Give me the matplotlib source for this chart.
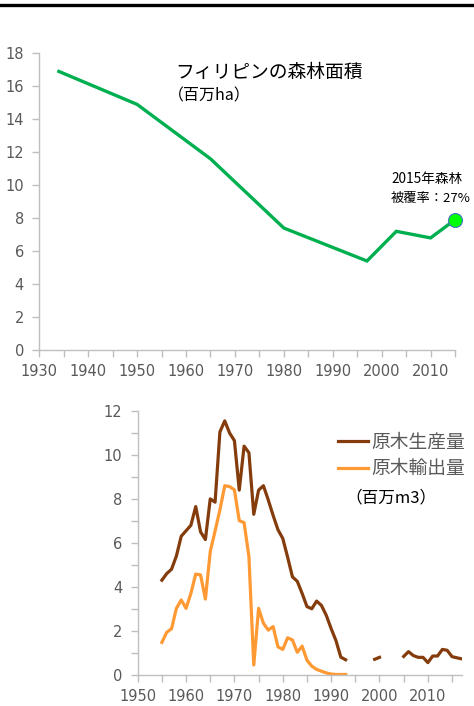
import numpy as np
import matplotlib
matplotlib.use("Agg")
import matplotlib.pyplot as plt
from matplotlib.lines import Line2D
from matplotlib.ticker import MultipleLocator

plt.rcParams['font.family'] = ['Noto Sans CJK JP', 'DejaVu Sans']

# forest area (million ha)
forest_years = [1934, 1950, 1965, 1980, 1997, 2003, 2010, 2015]
forest_area = [16.9, 14.9, 11.6, 7.4, 5.4, 7.2, 6.8, 7.9]

# log production / export (million m3)
prod_years = list(range(1955, 2018))
nan = np.nan
log_production = [4.3, 4.6, 4.8, 5.4, 6.3, 6.55, 6.8, 7.65, 6.5, 6.15,
                  8.0, 7.85, 11.05, 11.55, 11.0, 10.65, 8.4, 10.4, 10.1, 7.3,
                  8.4, 8.6, 7.95, 7.25, 6.6, 6.2, 5.35, 4.45, 4.25, 3.7,
                  3.1, 3.0, 3.35, 3.15, 2.7, 2.1, 1.55, 0.8, 0.68, nan,
                  nan, nan, nan, nan, 0.7, 0.79, nan, nan, nan, nan,
                  0.83, 1.05, 0.87, 0.79, 0.79, 0.55, 0.85, 0.85, 1.15, 1.11,
                  0.82, 0.77, 0.72]
export_years = list(range(1955, 1994))
log_export = [1.47, 1.93, 2.09, 3.02, 3.4, 3.02, 3.7, 4.58, 4.54, 3.44,
              5.6, 6.54, 7.5, 8.6, 8.56, 8.41, 7.01, 6.92, 5.37, 0.44,
              3.02, 2.34, 2.03, 2.19, 1.27, 1.15, 1.68, 1.58, 1.02, 1.3,
              0.66, 0.39, 0.24, 0.16, 0.08, 0.03, 0.01, 0.01, 0.01]

grey = '#bfbfbf'
tick_grey = '#595959'

fig = plt.figure(figsize=(4.74, 7.06), dpi=100)

# thick black rule at the top
fig.add_artist(Line2D([0, 1], [1 - 5 / 706, 1 - 5 / 706], color='black', lw=2.4,
                      transform=fig.transFigure))


def style_axes(ax):
    for s in ['top', 'right']:
        ax.spines[s].set_visible(False)
    for s in ['left', 'bottom']:
        ax.spines[s].set_color(grey)
        ax.spines[s].set_linewidth(1)
    ax.tick_params(which='both', length=5, color=grey, labelcolor=tick_grey,
                   labelsize=10.5, width=1)
    ax.tick_params(axis='y', pad=6)
    ax.tick_params(axis='x', pad=5)
    for lab in ax.get_xticklabels() + ax.get_yticklabels():
        lab.set_family('DejaVu Sans')


# top chart: forest area
ax1 = fig.add_axes([39.3 / 474, 1 - 350 / 706, (455 - 39.3) / 474, (350 - 53.3) / 706])
ax1.plot(forest_years, forest_area, color='#00b050', lw=2.4, solid_joinstyle='miter')
ax1.plot(forest_years[-1], forest_area[-1], 'o', ms=10, mfc='#00ff00',
         mec='#4472c4', mew=0.8, clip_on=False, zorder=5)
ax1.set_xlim(1930, 2015)
ax1.set_ylim(0, 18)
ax1.xaxis.set_major_locator(MultipleLocator(10))
ax1.xaxis.set_minor_locator(MultipleLocator(5))
ax1.yaxis.set_major_locator(MultipleLocator(2))
style_axes(ax1)

fig.text(175 / 474, 1 - 72 / 706, 'フィリピンの森林面積', fontsize=13.5,
         ha='left', va='center', color='black')
fig.text(168 / 474, 1 - 96 / 706, '（百万ha）', fontsize=11.5,
         ha='left', va='center', color='black')
fig.text(391 / 474, 1 - 179 / 706, '2015年森林', fontsize=9.8,
         ha='left', va='center', color='black')
fig.text(391 / 474, 1 - 198 / 706, '被覆率：27%', fontsize=9.5,
         ha='left', va='center', color='black')

# bottom chart: log production and export
ax2 = fig.add_axes([137.7 / 474, 1 - 674.7 / 706, (461.7 - 137.7) / 474, (674.7 - 411) / 706])
ax2.plot(prod_years, log_production, color='#843c0c', lw=2.3, label='原木生産量')
ax2.plot(export_years, log_export, color='#ff9933', lw=2.3, label='原木輸出量')
ax2.set_xlim(1950, 2017)
ax2.set_ylim(0, 12)
ax2.xaxis.set_major_locator(MultipleLocator(10))
ax2.xaxis.set_minor_locator(MultipleLocator(5))
ax2.yaxis.set_major_locator(MultipleLocator(2))
ax2.yaxis.set_minor_locator(MultipleLocator(1))
style_axes(ax2)

leg = ax2.legend(loc='upper left', bbox_to_anchor=(0.585, 0.965), frameon=False,
                 fontsize=13.5, handlelength=1.6, handletextpad=0.15,
                 labelspacing=0.3, borderaxespad=0.2)
for t in leg.get_texts():
    t.set_color(tick_grey)

fig.text(345 / 474, 1 - 498 / 706, '（百万m3）', fontsize=12,
         ha='left', va='center', color='black')

fig.savefig('out.png', dpi=100)
